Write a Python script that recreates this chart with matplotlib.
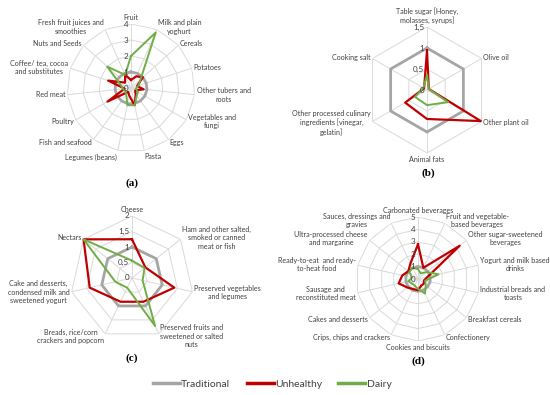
import numpy as np
import matplotlib.pyplot as plt
from matplotlib.lines import Line2D

plt.rcParams['font.family'] = ['Lato', 'DejaVu Sans']

# (a) unprocessed / minimally processed foods
cats_a = ["Fruit", "Milk and plain\nyoghurt", "Cereals", "Potatoes",
          "Other tubers and\nroots", "Vegetables and\nfungi", "Eggs", "Pasta",
          "Legumes (beans)", "Fish and seafood", "Poultry", "Red meat",
          "Coffee/ tea, cocoa\nand substitutes", "Nuts and Seeds",
          "Fresh fruit juices and\nsmoothies"]
trad_a = [1] * 15
unh_a = [0.5, 0.8, 1.0, 0.4, 0.8, 0.3, 0.5, 1.1, 0.5, 0.3, 1.7, 0.4, 1.5, 0.5, 0.9]
dairy_a = [2.0, 3.8, 0.8, 0.5, 0.3, 0.5, 0.6, 1.1, 1.1, 0.5, 0.4, 0.5, 0.7, 2.0, 0.9]
ticks_a = [0, 1, 2, 3, 4]
tlab_a = ["0", "1", "2", "3", "4"]

# (b) processed culinary ingredients
cats_b = ["Table sugar [Honey,\nmolasses, syrups]", "Olive oil", "Other plant oil",
          "Animal fats", "Other processed culinary\ningredients [vinegar,\ngelatin]",
          "Cooking salt"]
trad_b = [1] * 6
unh_b = [0.94, 0.05, 1.48, 0.69, 0.6, 0.08]
dairy_b = [0.36, 0.05, 0.58, 0.36, 0.33, 0.1]
ticks_b = [0, 0.5, 1, 1.5]
tlab_b = ["0", "0,5", "1", "1,5"]

# (c) processed foods
cats_c = ["Cheese", "Ham and other salted,\nsmoked or canned\nmeat or fish",
          "Preserved vegetables\nand legumes",
          "Preserved fruits and\nsweetened or salted\nnuts",
          "Breads, rice/corn\ncrackers and popcorn",
          "Cake and desserts,\ncondensed milk and\nsweetened yogurt", "Nectars"]
trad_c = [1] * 7
unh_c = [1.25, 0.55, 1.4, 0.85, 0.85, 1.4, 2.0]
dairy_c = [0.56, 0.52, 0.35, 1.72, 0.35, 0.55, 2.0]
ticks_c = [0, 0.5, 1, 1.5, 2]
tlab_c = ["0", "0,5", "1", "1,5", "2"]

# (d) ultra-processed foods
cats_d = ["Carbonated beverages", "Fruit and vegetable-\nbased beverages",
          "Other sugar-sweetened\nbeverages", "Yogurt and milk based\ndrinks",
          "Industrial breads and\ntoasts", "Breakfast cereals", "Confectionery",
          "Cookies and biscuits", "Crips, chips and crackers", "Cakes and desserts",
          "Sausage and\nreconstituted meat", "Ready-to-eat  and ready-\nto-heat food",
          "Ultra-processed cheese\nand margarine", "Sauces, dressings and\ngravies"]
trad_d = [1] * 14
unh_d = [2.8, 1.0, 4.3, 0.8, 0.5, 0.6, 0.6, 0.9, 0.9, 1.1, 1.6, 1.3, 1.0, 1.4]
dairy_d = [0.8, 0.5, 0.9, 1.7, 0.6, 0.8, 1.3, 0.8, 0.6, 0.6, 0.8, 0.5, 0.9, 1.0]
ticks_d = [0, 1, 2, 3, 4, 5]
tlab_d = ["0", "1", "2", "3", "4", "5"]

GRID = '#d9d9d9'
C_TRAD = '#a5a5a5'
C_UNH = '#c00000'
C_DAIRY = '#70ad47'
TXT = '#404040'


def radar(rect, cats, trad, unh, dairy, ticks, tlab):
    ax = fig.add_axes(rect, projection='polar')
    n = len(cats)
    ang = np.linspace(0, 2 * np.pi, n, endpoint=False)
    closed = np.append(ang, ang[0])
    rmax = ticks[-1]
    ax.set_theta_zero_location('N')
    ax.set_theta_direction(-1)
    ax.set_ylim(0, rmax)
    ax.set_axis_off()
    # polygon grid + spokes
    for t in ticks[1:]:
        ax.plot(closed, [t] * (n + 1), color=GRID, lw=0.7, zorder=1)
    for a in ang:
        ax.plot([a, a], [0, rmax], color=GRID, lw=0.7, zorder=1)
    # series
    for vals, c, lw in [(trad, C_TRAD, 2.0), (unh, C_UNH, 1.6), (dairy, C_DAIRY, 1.4)]:
        ax.plot(closed, np.append(vals, vals[0]), color=c, lw=lw, zorder=3, clip_on=False)
    # radial tick labels
    for t, lb in zip(ticks, tlab):
        ax.annotate(lb, (0, t), xytext=(-2, 0), textcoords='offset points',
                    ha='right', va='center', fontsize=5.8, color=TXT, zorder=4)
    # category labels
    for a, lb in zip(ang, cats):
        s, c = np.sin(a), np.cos(a)
        ha = 'left' if s > 0.1 else ('right' if s < -0.1 else 'center')
        va = 'bottom' if c > 0.97 else ('top' if c < -0.97 else 'center')
        ax.annotate(lb, (a, rmax), xytext=(s * 1.5, c * 2), textcoords='offset points',
                    ha=ha, va=va, fontsize=5.1, color=TXT,
                    multialignment='center', linespacing=1.25)
    return ax


fig = plt.figure(figsize=(5.5, 3.95), dpi=100)

W, H = 550, 395


def rect(cx, cy, r):
    return [(cx - r) / W, 1 - (cy + r) / H, 2 * r / W, 2 * r / H]


radar(rect(131, 88, 64), cats_a, trad_a, unh_a, dairy_a, ticks_a, tlab_a)
radar(rect(427, 90, 63), cats_b, trad_b, unh_b, dairy_b, ticks_b, tlab_b)
radar(rect(132, 278, 62), cats_c, trad_c, unh_c, dairy_c, ticks_c, tlab_c)
radar(rect(418, 279, 62), cats_d, trad_d, unh_d, dairy_d, ticks_d, tlab_d)

for tag, x, y in [("(a)", 132, 183), ("(b)", 428, 173), ("(c)", 132, 358), ("(d)", 418, 361)]:
    fig.text(x / W, 1 - y / H, tag, ha='center', va='center',
             family='Liberation Serif', weight='bold', fontsize=8)

handles = [Line2D([], [], color=C_TRAD, lw=2.5),
           Line2D([], [], color=C_UNH, lw=2.5),
           Line2D([], [], color=C_DAIRY, lw=2.5)]
fig.legend(handles, ["Traditional", "Unhealthy", "Dairy"], loc='center',
           bbox_to_anchor=(272 / W, 1 - 384 / H), ncol=3, frameon=False,
           fontsize=7.5, handlelength=2.6, handletextpad=0.1, columnspacing=1.6,
           labelcolor=TXT)

fig.savefig('out.png', dpi=100)
